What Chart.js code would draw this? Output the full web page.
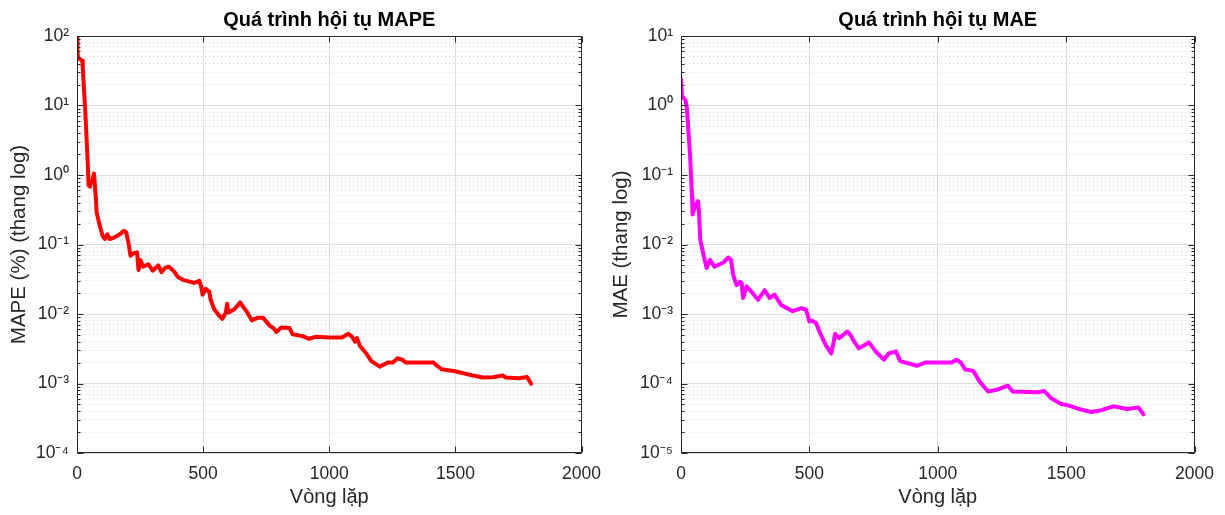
<!DOCTYPE html>
<html>
<head>
<meta charset="utf-8">
<script src="https://cdn.jsdelivr.net/npm/chart.js@4.4.0/dist/chart.umd.min.js"></script>
<style>
  html, body { margin: 0; padding: 0; background: #fff; }
  body { width: 1225px; height: 515px; position: relative; overflow: hidden; }
  .panel { position: absolute; top: 0; height: 515px; }
  #left { left: 0; width: 612px; }
  #right { left: 600px; width: 625px; }
</style>
</head>
<body>
<div class="panel" id="left"><canvas id="mapeChart"></canvas></div>
<div class="panel" id="right"><canvas id="maeChart"></canvas></div>
<script>
const FONT = "'Liberation Sans', Arial, Helvetica, sans-serif";
const INK = '#262626';

// axis ticks
const iterTicks = [0, 500, 1000, 1500, 2000];
const mapeDecades = [-4, -3, -2, -1, 0, 1, 2];
const maeDecades = [-5, -4, -3, -2, -1, 0, 1];
const minorSteps = [2, 3, 4, 5, 6, 7, 8, 9];

// MAPE (%) per iteration
const mapeIter = [0, 2, 4, 13, 21, 23, 33, 43, 46, 52, 56, 62, 67, 70, 75, 78, 88, 101, 110, 120, 130, 145, 154, 170, 186, 195,
  205, 212, 225, 238, 244, 252, 262, 283, 300, 322, 335, 349, 365, 387, 400, 420, 450, 465, 485, 492, 498, 510, 524, 530,
  543, 560, 576, 590, 595, 600, 606, 625, 647, 660, 673, 693, 715, 738, 764, 780, 790, 810, 842, 855, 894, 920, 946, 1000,
  1050, 1076, 1090, 1102, 1110, 1121, 1147, 1167, 1200, 1232, 1252, 1271, 1290, 1304, 1414, 1427, 1446, 1499, 1570, 1609,
  1648, 1687, 1700, 1752, 1784, 1790, 1800];
const mapeValue = [98, 60, 49, 46, 44, 34, 8, 1.37, 0.71, 0.68, 0.79, 0.85, 1.05, 0.8, 0.45, 0.29, 0.2, 0.135, 0.12, 0.14,
  0.12, 0.125, 0.13, 0.14, 0.158, 0.15, 0.1, 0.069, 0.075, 0.077, 0.043, 0.06, 0.048, 0.052, 0.042, 0.05, 0.04, 0.046, 0.048,
  0.04, 0.034, 0.031, 0.029, 0.028, 0.03, 0.025, 0.019, 0.023, 0.021, 0.016, 0.0119, 0.0098, 0.0085, 0.0105, 0.014, 0.0105,
  0.0108, 0.0118, 0.0147, 0.0125, 0.0108, 0.0081, 0.0088, 0.0088, 0.0068, 0.0062, 0.0055, 0.0064, 0.0063, 0.0051, 0.0048,
  0.0044, 0.0047, 0.0046, 0.0046, 0.0052, 0.0047, 0.004, 0.0045, 0.0035, 0.0027, 0.0021, 0.00175, 0.002, 0.002, 0.0023,
  0.0022, 0.002, 0.002, 0.0018, 0.0016, 0.0015, 0.0013, 0.00122, 0.00123, 0.0013, 0.00122, 0.00119, 0.00124, 0.00115, 0.00099];

// MAE per iteration
const maeIter = [0, 4, 17, 23, 35, 43, 45, 55, 66, 70, 75, 88, 100, 113, 130, 145, 165, 184, 195, 203, 216, 230, 236, 242,
  255, 274, 300, 326, 345, 364, 390, 435, 468, 487, 500, 510, 526, 545, 565, 585, 595, 600, 616, 648, 660, 674, 693, 732,
  758, 790, 809, 837, 854, 919, 951, 1054, 1073, 1090, 1106, 1138, 1163, 1196, 1234, 1273, 1292, 1389, 1415, 1440, 1479,
  1511, 1550, 1595, 1634, 1685, 1737, 1782, 1801];
const maeValue = [2.4, 1.35, 1.2, 0.92, 0.2, 0.049, 0.027, 0.035, 0.042, 0.03, 0.0117, 0.007, 0.0046, 0.006, 0.0048, 0.0051,
  0.0055, 0.0065, 0.006, 0.0037, 0.0026, 0.0029, 0.0028, 0.0017, 0.0025, 0.0021, 0.0016, 0.0022, 0.0017, 0.0019, 0.00135,
  0.0011, 0.00121, 0.00116, 0.00078, 0.0008, 0.00074, 0.0005, 0.00035, 0.00027, 0.0004, 0.00052, 0.00045, 0.00056, 0.0005,
  0.0004, 0.00032, 0.00039, 0.00029, 0.00022, 0.00027, 0.00029, 0.00021, 0.00018, 0.0002, 0.0002, 0.00022, 0.0002, 0.00016,
  0.000152, 0.000107, 0.0000767, 0.000082, 0.000093, 0.0000767, 0.000075, 0.000078, 0.000062, 0.000051, 0.000048, 0.000043,
  0.000039, 0.000041, 0.000047, 0.000043, 0.000045, 0.000036];

const SUP = {'-': '⁻', '0': '⁰', '1': '¹', '2': '²', '3': '³', '4': '⁴', '5': '⁵', '6': '⁶', '7': '⁷', '8': '⁸', '9': '⁹'};
function decadeLabel(e) {
  return '10' + String(e).split('').map(c => SUP[c]).join('');
}

function logTicks(decades) {
  const out = [];
  decades.forEach((e, i) => {
    out.push({value: Number('1e' + e), major: true});
    if (i < decades.length - 1) {
      minorSteps.forEach(m => out.push({value: Number(m + 'e' + e), major: false}));
    }
  });
  return out;
}

// matlab style box with inward ticks
const boxPlugin = {
  id: 'matlabBox',
  afterDatasetsDraw(chart) {
    const {ctx, chartArea: a, scales: {x, y}} = chart;
    const L = Math.round(a.left) + 0.5, R = Math.round(a.right) - 0.5;
    const T = Math.round(a.top) + 0.5, B = Math.round(a.bottom) - 0.5;
    ctx.save();
    ctx.strokeStyle = INK;
    ctx.lineWidth = 1;
    ctx.beginPath();
    y.ticks.forEach(t => {
      const py = Math.round(y.getPixelForValue(t.value)) + 0.5;
      const len = t.major ? 6 : 3;
      ctx.moveTo(L, py); ctx.lineTo(L + len, py);
      ctx.moveTo(R, py); ctx.lineTo(R - len, py);
    });
    x.ticks.forEach(t => {
      const px = Math.round(x.getPixelForValue(t.value)) + 0.5;
      ctx.moveTo(px, B); ctx.lineTo(px, B - 6);
      ctx.moveTo(px, T); ctx.lineTo(px, T + 6);
    });
    ctx.stroke();
    ctx.strokeRect(L, T, R - L, B - T);
    ctx.restore();
  }
};

function makeChart(id, cfg) {
  return new Chart(document.getElementById(id), {
    type: 'line',
    data: {
      datasets: [{
        data: cfg.iter.map((it, i) => ({x: it, y: cfg.values[i]})),
        borderColor: cfg.color,
        borderWidth: 4,
        pointRadius: 0,
        tension: 0,
        fill: false,
        borderJoinStyle: 'round',
        borderCapStyle: 'round'
      }]
    },
    options: {
      responsive: true,
      maintainAspectRatio: false,
      animation: false,
      layout: {padding: {left: 0, right: cfg.padRight, top: 0, bottom: 0}},
      plugins: {
        legend: {display: false},
        tooltip: {enabled: false},
        title: {
          display: true,
          text: cfg.title,
          fullSize: false,
          color: '#000',
          font: {family: FONT, size: 20, weight: 'bold', lineHeight: 1.2},
          padding: {top: 8, bottom: 4}
        }
      },
      scales: {
        x: {
          type: 'linear',
          min: 0,
          max: 2000,
          afterBuildTicks: s => { s.ticks = iterTicks.map(v => ({value: v})); },
          afterFit: s => { s.height = 62; },
          ticks: {color: INK, font: {family: FONT, size: 17.5}, padding: 11, maxRotation: 0, autoSkip: false,
            callback: v => String(v)},
          grid: {color: '#dedede', lineWidth: 1, drawTicks: false},
          border: {display: false},
          title: {display: true, text: 'Vòng lặp', color: INK, font: {family: FONT, size: 20}, padding: {top: 0, bottom: 6}}
        },
        y: {
          type: 'logarithmic',
          min: Number('1e' + cfg.decades[0]),
          max: Number('1e' + cfg.decades[cfg.decades.length - 1]),
          afterBuildTicks: s => { s.ticks = logTicks(cfg.decades); },
          afterFit: s => { s.width = cfg.yWidth; },
          ticks: {
            color: INK,
            font: {family: FONT, size: 17.5},
            padding: 8,
            autoSkip: false,
            callback: (v, i, ticks) => ticks[i].major ? decadeLabel(Math.round(Math.log10(v))) : ''
          },
          grid: {
            color: c => (c.tick && !c.tick.major) ? '#d4d4d4' : '#dcdcdc',
            lineWidth: 1,
            drawTicks: false
          },
          border: {display: false, dash: c => (c.tick && !c.tick.major) ? [1, 3] : []},
          title: {display: true, text: cfg.yTitle, color: INK, font: {family: FONT, size: 20.5}, padding: {top: cfg.yTitlePad, bottom: 0}}
        }
      }
    },
    plugins: [boxPlugin]
  });
}

makeChart('mapeChart', {
  iter: mapeIter, values: mapeValue, color: '#ff0000', decades: mapeDecades,
  title: 'Quá trình hội tụ MAPE', yTitle: 'MAPE (%) (thang log)',
  yWidth: 77, padRight: 22, yTitlePad: 7
});

makeChart('maeChart', {
  iter: maeIter, values: maeValue, color: '#ff00ff', decades: maeDecades,
  title: 'Quá trình hội tụ MAE', yTitle: 'MAE (thang log)',
  yWidth: 81, padRight: 28, yTitlePad: 9
});
</script>
</body>
</html>
